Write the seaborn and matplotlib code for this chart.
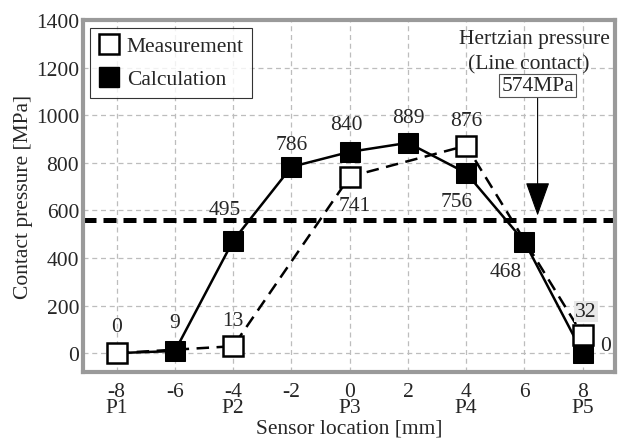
import numpy as np
import pandas as pd
import matplotlib
matplotlib.use("Agg")
import matplotlib.pyplot as plt
import seaborn as sns
from matplotlib.lines import Line2D

# sensor positions [mm]
meas_x = [-8, -4, 0, 4, 8]
meas_y = [0, 29, 742, 872, 75]
meas_labels = ["0", "13", "741", "876", "32"]

calc_x = [-8, -6, -4, -2, 0, 2, 4, 6, 8]
calc_y = [0, 9, 473, 783, 846, 884, 757, 468, 0]
calc_labels = [None, "9", "495", "786", "840", "889", "756", "468", "0"]

hertz = 558
xticks = [-8, -6, -4, -2, 0, 2, 4, 6, 8]
xticklabels = ["-8\nP1", "-6", "-4\nP2", "-2", "0\nP3", "2", "4\nP4", "6", "8\nP5"]
yticks = [0, 200, 400, 600, 800, 1000, 1200, 1400]

sns.set_style("white")
plt.rcParams["font.family"] = ["Liberation Serif", "DejaVu Serif"]

fig = plt.figure(figsize=(6.21, 4.39), dpi=100)
ax = fig.add_axes([0.134, 0.150, 0.856, 0.802])

# grid
for x in xticks:
    ax.axvline(x, color="#bdbdbd", lw=0.9, ls=(0, (4, 3)), zorder=0)
for y in yticks:
    ax.axhline(y, color="#bdbdbd", lw=0.9, ls=(0, (4, 3)), zorder=0)

# hertzian line
ax.axhline(hertz, color="black", lw=3.6, ls=(0, (2.6, 1.4)), zorder=1)

calc = pd.DataFrame({"x": calc_x, "y": calc_y})
meas = pd.DataFrame({"x": meas_x, "y": meas_y})

sns.lineplot(data=calc, x="x", y="y", ax=ax, color="black", lw=1.8,
             marker="s", markersize=14, markerfacecolor="black",
             markeredgecolor="black", zorder=3)
sns.lineplot(data=meas, x="x", y="y", ax=ax, color="black", lw=1.8,
             ls=(0, (5, 3)), marker="s", markersize=14,
             markerfacecolor="white", markeredgecolor="black",
             markeredgewidth=1.8, zorder=4)

fs = 15.5
# label offsets in pixels (text centre relative to marker centre)
meas_off = [(0, 27), (0, 26), (5, -29), (0, 25), (3, 24)]
for x, y, t, (dx, dy) in zip(meas_x, meas_y, meas_labels, meas_off):
    kw = {}
    if t == "32":
        kw["bbox"] = dict(boxstyle="square,pad=0.05", fc="#e8e8e8", ec="none")
    ax.annotate(t, (x, y), xytext=(dx, dy), textcoords="offset pixels",
                ha="center", va="center", fontsize=fs, zorder=5, **kw)

calc_off = [None, (0, 28), (-8, 31), (0, 22), (-3, 27), (0, 25), (-10, -28), (-19, -30), (23, 8)]
for x, y, t, off in zip(calc_x, calc_y, calc_labels, calc_off):
    if t is None:
        continue
    ax.annotate(t, (x, y), xytext=off, textcoords="offset pixels",
                ha="center", va="center", fontsize=fs, zorder=5)

# hertzian annotation
ax.text(6.35, 1322, "Hertzian pressure", ha="center", va="center", fontsize=fs)
ax.text(6.15, 1217, "(Line contact)", ha="center", va="center", fontsize=fs)
ax.annotate("574MPa", xy=(6.45, 578), xytext=(6.45, 1125),
            ha="center", va="center", fontsize=fs,
            bbox=dict(boxstyle="square,pad=0.1", fc="white", ec="#555555", lw=0.8),
            arrowprops=dict(arrowstyle="-|>,head_length=1.4,head_width=0.5",
                            color="black", lw=0.8, shrinkA=0, shrinkB=0))

ax.set_xlim(-9.15, 9.1)
ax.set_ylim(-80, 1400)
ax.set_xticks(xticks)
ax.set_xticklabels(xticklabels, fontsize=fs, linespacing=0.8)
ax.set_yticks(yticks)
ax.set_yticklabels([str(v) for v in yticks], fontsize=fs)
ax.tick_params(length=0, pad=3)
ax.tick_params(axis="x", pad=7)
ax.set_xlabel("Sensor location [mm]", fontsize=fs, labelpad=1)
ax.set_ylabel("Contact pressure [MPa]", fontsize=fs, labelpad=2)

for s in ax.spines.values():
    s.set_color("#9a9a9a")
    s.set_linewidth(3)

handles = [
    Line2D([], [], ls="none", marker="s", markersize=15, markerfacecolor="white",
           markeredgecolor="black", markeredgewidth=1.8),
    Line2D([], [], ls="none", marker="s", markersize=15, markerfacecolor="black",
           markeredgecolor="black"),
]
leg = ax.legend(handles, ["Measurement", "Calculation"], loc="upper left",
                fontsize=fs, frameon=True, fancybox=False, borderpad=0.4,
                handletextpad=0.3, labelspacing=0.6, handlelength=1.0,
                borderaxespad=0.0, bbox_to_anchor=(0.013, 0.978))
leg.get_frame().set_edgecolor("black")
leg.get_frame().set_linewidth(0.8)

fig.savefig("out.png", dpi=100)
